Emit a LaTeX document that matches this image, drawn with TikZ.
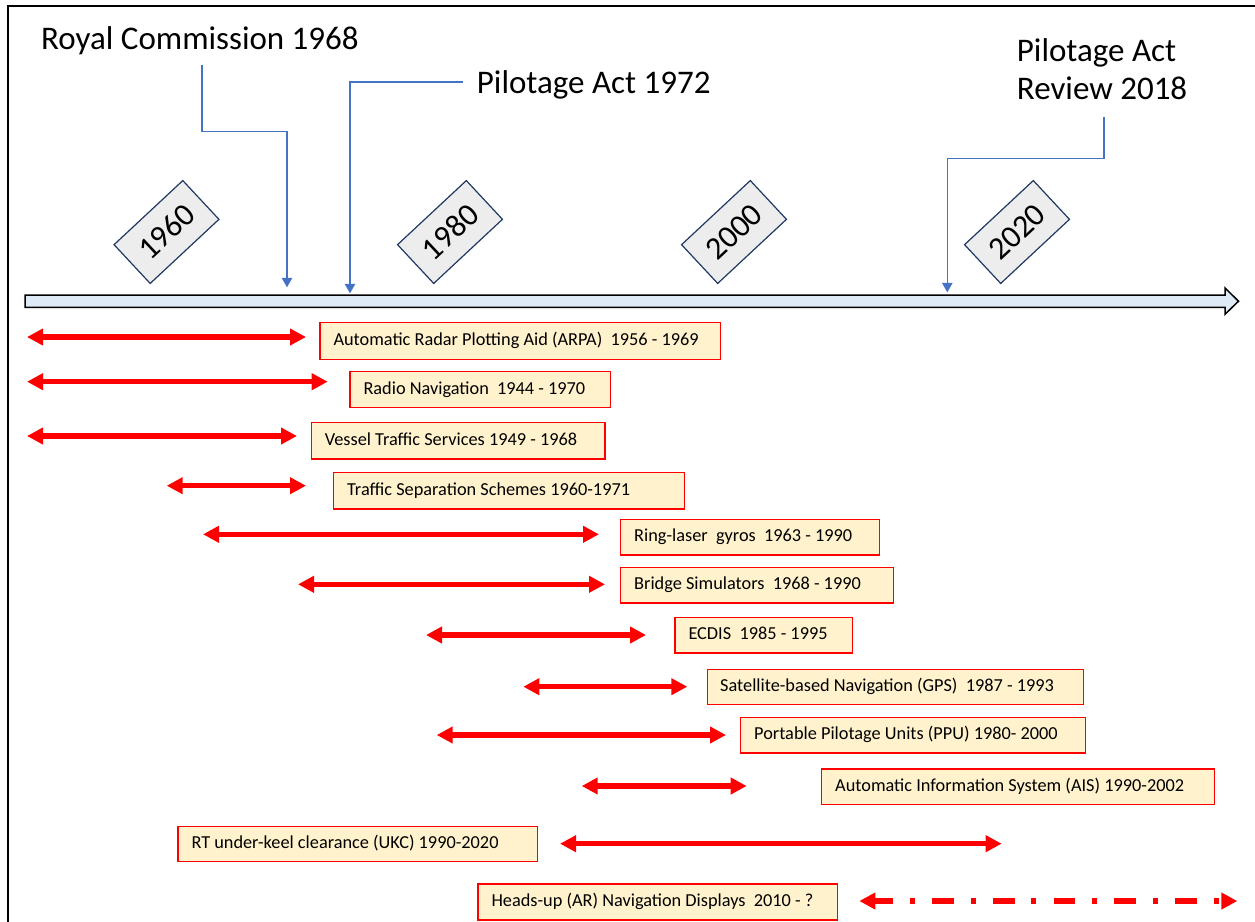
\documentclass[tikz,border=0pt]{standalone}
\usepackage{fontspec}
\setmainfont{Carlito}
\usetikzlibrary{arrows.meta}
\definecolor{evfill}{HTML}{FFF2CC}
\definecolor{evred}{HTML}{FF0000}
\definecolor{tlfill}{HTML}{DEEBF7}
\definecolor{tagfill}{HTML}{EDEDED}
\definecolor{tagline}{HTML}{203864}
\definecolor{callblue}{HTML}{4472C4}
\begin{document}
\begin{tikzpicture}[x=1pt,y=-1pt,
  evbox/.style={draw=evred, fill=evfill, line width=1.3pt, anchor=north west,
    inner sep=0pt},
  evtext/.style={anchor=base west, inner sep=0pt, font=\fontsize{18.3}{22}\selectfont},
  span/.style={evred, line width=5.5pt,
    {Triangle[width=16pt,length=16pt]}-{Triangle[width=16pt,length=16pt]}},
  dashspan/.style={span, line cap=butt, dash pattern=on 21.7pt off 16.7pt on 5pt off 17.3pt, dash phase=2.7pt},
  yeartag/.style={draw=tagline, fill=tagfill, line width=1.2pt, minimum width=94pt,
    minimum height=53pt, inner sep=0pt, rotate=43, font=\fontsize{32}{38}\selectfont},
  bigtext/.style={inner sep=0pt, anchor=base west, font=\fontsize{33}{39}\selectfont},
  callout/.style={draw=callblue, line width=1.2pt, -{Triangle[width=10.5pt,length=9.5pt]}}
]
\useasboundingbox (0,0) rectangle (1255,921);
\clip (0,0) rectangle (1255,921);
\fill[white] (0,0) rectangle (1255,921);
% frame
\draw[line width=1.6pt] (8,6) rectangle (1275,940);

% timeline
\draw[line width=1.5pt, fill=tlfill, line join=miter]
  (25,295) -- (1225,295) -- (1225,288) -- (1238.5,301.2) -- (1225,314.3) -- (1225,307.3) -- (25,307.3) -- cycle;

% year tags
\node[yeartag] (y1960) at (166.5,232) {1960};
\node[yeartag] (y1980) at (450,232) {1980};
\node[yeartag] (y2000) at (734,232) {2000};
\node[yeartag] (y2020) at (1017,232) {2020};

% callout labels
\node[bigtext] (rc) at (41,49.3) {Royal Commission 1968};
\node[bigtext] (pa) at (476.7,93.3) {Pilotage Act 1972};
\node[bigtext] (rv1) at (1016.7,61) {Pilotage Act};
\node[bigtext] (rv2) at (1016.7,99) {Review 2018};

\coordinate (rcS) at (202,65);
\coordinate (rcT) at (287,287.3);
\coordinate (paS) at (463,82);
\coordinate (paT) at (350,293.3);
\coordinate (rvS) at (1104,117.3);
\coordinate (rvT) at (947.3,292.3);
\draw[callout] (rcS) |- (287,131.7) -- (rcT);
\draw[callout] (paS) -| (paT);
\draw[callout] (rvS) -- (1104,158.3) -| (rvT);

% event boxes
\node[evbox, minimum width=400.7pt, minimum height=37.3pt] (e1) at (319.3,321.7) {};
\node[evbox, minimum width=260.7pt, minimum height=36pt] (e2) at (349.3,370.7) {};
\node[evbox, minimum width=293.6pt, minimum height=36.3pt] (e3) at (310.7,422) {};
\node[evbox, minimum width=351pt, minimum height=36.6pt] (e4) at (333,471.7) {};
\node[evbox, minimum width=259pt, minimum height=35.6pt] (e5) at (620,518.7) {};
\node[evbox, minimum width=273pt, minimum height=35.6pt] (e6) at (620,566.7) {};
\node[evbox, minimum width=177.4pt, minimum height=35.6pt] (e7) at (674.3,616.7) {};
\node[evbox, minimum width=376.3pt, minimum height=35pt] (e8) at (706.7,668.5) {};
\node[evbox, minimum width=345pt, minimum height=35.6pt] (e9) at (740,716.7) {};
\node[evbox, minimum width=393pt, minimum height=35.7pt] (e10) at (821,768.3) {};
\node[evbox, minimum width=359.4pt, minimum height=35pt] (e11) at (177.3,826) {};
\node[evbox, minimum width=359.4pt, minimum height=36pt] (e12) at (477.3,883.3) {};

\node[evtext] (e1t) at ([xshift=14pt,yshift=-4.8pt]e1.west) {Automatic Radar Plotting Aid (ARPA)~ 1956 - 1969};
\node[evtext] (e2t) at ([xshift=14pt,yshift=-4.8pt]e2.west) {Radio Navigation~ 1944 - 1970};
\node[evtext] (e3t) at ([xshift=14pt,yshift=-4.8pt]e3.west) {Vessel Traffic Services 1949 - 1968};
\node[evtext] (e4t) at ([xshift=14pt,yshift=-4.8pt]e4.west) {Traffic Separation Schemes 1960-1971};
\node[evtext] (e5t) at ([xshift=14pt,yshift=-4.8pt]e5.west) {Ring-laser~ gyros~ 1963 - 1990};
\node[evtext] (e6t) at ([xshift=14pt,yshift=-4.8pt]e6.west) {Bridge Simulators~ 1968 - 1990};
\node[evtext] (e7t) at ([xshift=14pt,yshift=-4.8pt]e7.west) {ECDIS~ 1985 - 1995};
\node[evtext] (e8t) at ([xshift=13.3pt,yshift=-4.8pt]e8.west) {Satellite-based Navigation (GPS)~ 1987 - 1993};
\node[evtext] (e9t) at ([xshift=14pt,yshift=-4.8pt]e9.west) {Portable Pilotage Units (PPU) 1980- 2000};
\node[evtext] (e10t) at ([xshift=14pt,yshift=-4.8pt]e10.west) {Automatic Information System (AIS) 1990-2002};
\node[evtext] (e11t) at ([xshift=14pt,yshift=-4.8pt]e11.west) {RT under-keel clearance (UKC) 1990-2020};
\node[evtext] (e12t) at ([xshift=14pt,yshift=-4.8pt]e12.west) {Heads-up (AR) Navigation Displays~ 2010 - ?};

% spans
\draw[span] (27,337) -- (306,337);
\draw[span] (27,381.7) -- (327.7,381.7);
\draw[span] (27,436) -- (297,436);
\draw[span] (166.7,485.7) -- (306,485.7);
\draw[span] (203,534.3) -- (599,534.3);
\draw[span] (298,584.3) -- (605,584.3);
\draw[span] (426,635) -- (646,635);
\draw[span] (523.3,686.7) -- (687.3,686.7);
\draw[span] (436.7,735) -- (726,735);
\draw[span] (581.7,786) -- (746.7,786);
\draw[span] (560,843.7) -- (1001.7,843.7);
\draw[dashspan] (859.3,901) -- (1237.3,901);
\end{tikzpicture}
\end{document}
